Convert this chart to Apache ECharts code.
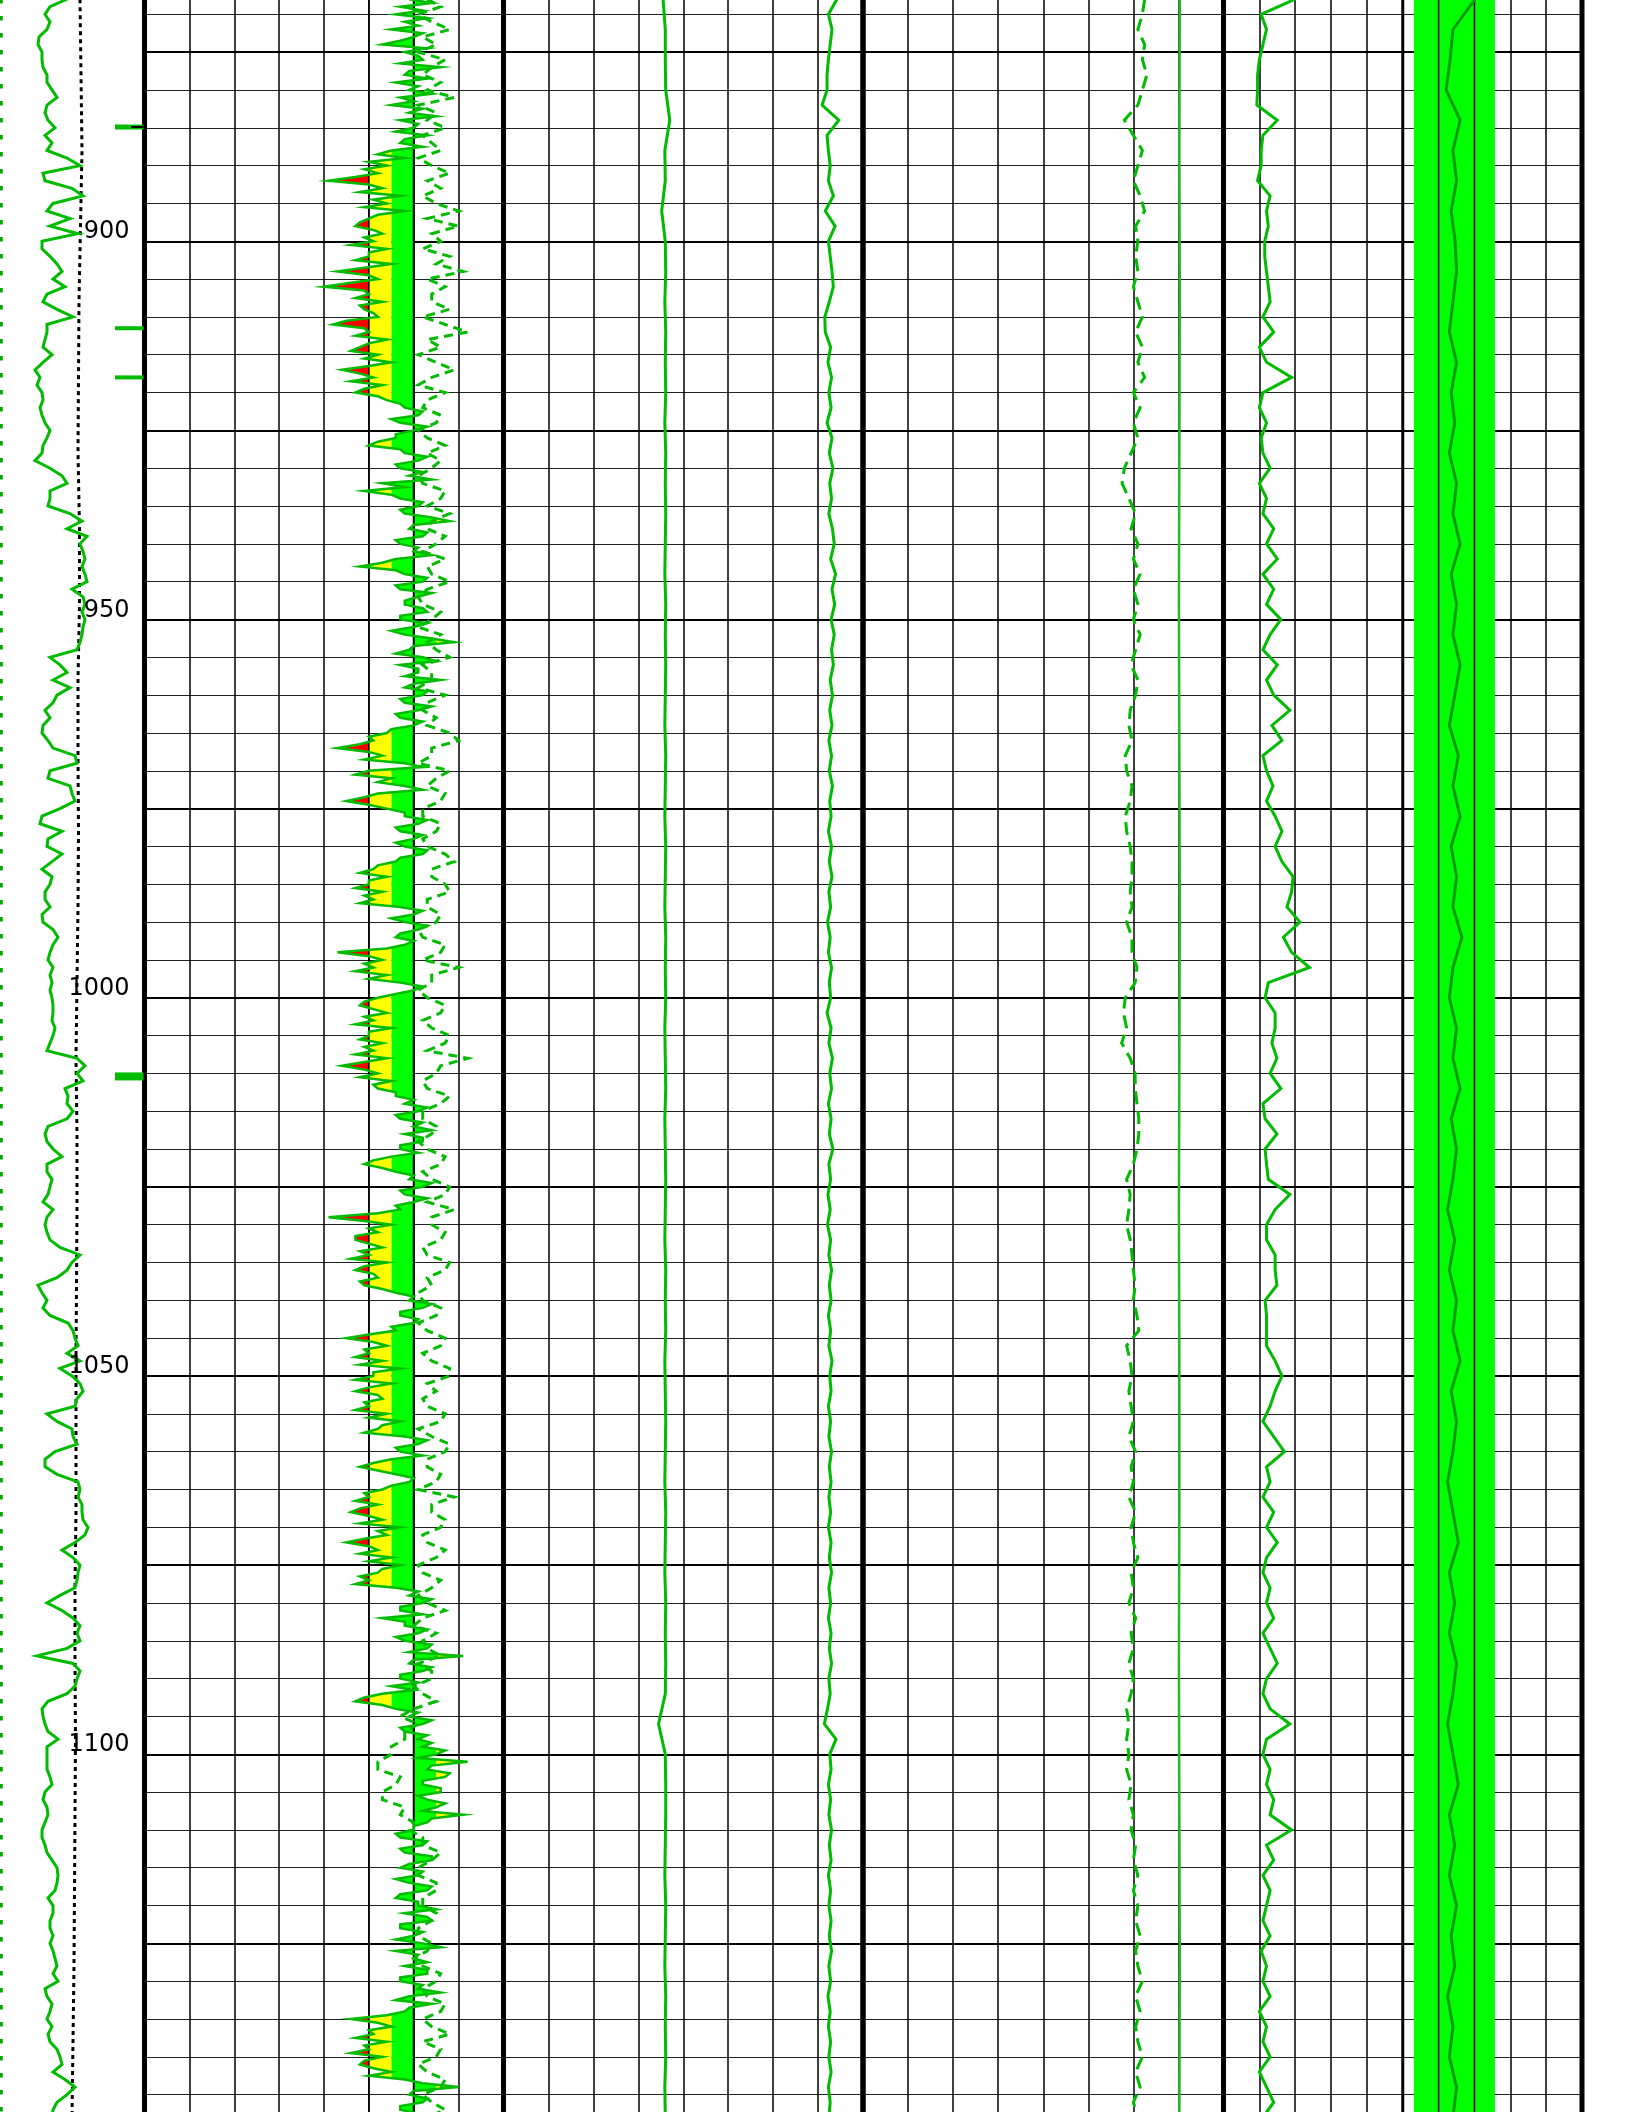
<!DOCTYPE html>
<html><head><meta charset="utf-8">
<script src="https://cdn.jsdelivr.net/npm/echarts@6/dist/echarts.min.js"></script>
<style>html,body{margin:0;padding:0;background:#fff;overflow:hidden}
#wrap{position:relative;width:1632px;height:2112px;overflow:hidden;background:#fff}
#c{position:absolute;left:0;top:-137px;width:1632px;height:2270px}</style>
</head><body><div id="wrap"><div id="c"></div></div>
<script>
// ---- sampling (LAS-style start depth; each array has its own step) ----
const DEPTH_TOP = 868;

// ---- depth track ----
const DEPTH_LABELS = [900, 950, 1000, 1050, 1100];
const MARKER_DEPTHS = [884.9, 911.5, 918.0, 1010.4];
const T1_EDGE = [1.3, 1.3];
const T1_EDGE_DEPTHS = [850, 1150];
// step 1
const T1_GR = [
67,50,45,50,47,39,38,42,42,43,
47,47,52,57,47,45,48,55,45,52,
47,67,80,43,45,72,83,53,47,70,
50,78,42,42,50,57,62,53,65,47,
43,57,73,47,47,45,43,52,43,35,
40,37,42,43,40,42,45,50,47,43,
42,35,50,62,67,50,50,48,70,82,
67,87,80,83,85,82,85,87,72,83,
85,82,85,83,82,80,77,50,60,67,
53,70,57,53,45,50,43,42,48,53,
75,77,50,48,70,72,75,60,42,40,
62,48,47,62,52,42,52,50,45,45,
50,42,43,53,58,53,50,48,53,50,
52,50,52,53,53,52,55,53,50,47,
77,85,77,83,65,68,67,73,67,48,
45,47,53,62,47,47,52,50,48,43,
53,47,45,47,50,60,80,72,67,57,
38,42,47,43,50,68,73,75,78,67,
80,60,72,80,83,77,75,47,57,72,
73,77,55,45,45,57,78,80,78,82,
82,83,88,85,75,62,73,80,78,77,
75,60,47,62,73,80,77,80,67,37,
73,80,77,75,67,48,42,43,45,48,
58,47,47,47,47,50,52,45,43,47,
48,45,42,42,45,47,52,57,58,57,
55,48,53,53,50,50,53,50,53,55,
57,53,58,45,47,52,50,47,52,48,
50,57,60,62,53,65,75,67,57,53,
52];
// step 10
const T1_DOT = [80,81,82,80.5,79,78.5,78,79.5,79.5,78,78,78.5,78,77,76,77,77,76.5,76,76,76,75,75,75.5,75,74.5,74,73,72];

// ---- track 2 ----
const T2_CUTOFFS = [50, 55, 60, 65, 70];
// step 0.5 (one row = 10 depth units)
const T2_MAIN = [
59,64,57,62,56,63,58,61,55,62,60,57,53,63,58,61,62,57,66,59,
58,63,56,61,59,64,57,60,55,62,59,65,57,61,60,56,63,58,57,62,
55,52,58,50,54,49,52,47,41,50,53,48,57,51,54,49,58,52,50,48,
47,51,53,49,51,46,54,50,50,47,55,49,43,50,52,46,40,49,50,47,
53,48,49,51,52,45,42,49,50,47,54,50,48,46,52,49,55,50,44,48,
51,46,53,49,47,52,54,57,58,62,61,55,57,63,60,56,56,52,50,57,
58,63,61,56,57,62,59,64,53,58,49,55,57,62,61,57,58,64,68,60,
59,63,62,56,57,61,60,64,56,53,48,56,58,63,62,56,57,64,61,58,
58,62,63,57,57,63,60,55,58,64,69,60,59,56,62,65,57,61,61,58,
66,60,58,63,62,57,58,64,61,56,57,62,60,55,54,50,51,48,43,50,
53,49,58,62,50,47,55,52,58,62,52,49,45,50,54,58,58,63,61,56,
57,62,60,56,58,63,62,57,56,52,51,48,54,50,50,47,53,49,51,48,
57,62,60,55,58,63,61,57,56,60,58,54,43,50,53,49,51,47,54,50,
57,62,60,56,52,49,48,51,54,49,51,47,55,50,50,48,53,49,51,47,
54,49,44,49,52,48,55,51,52,56,56,60,58,63,61,56,57,62,60,64,
58,62,62,57,57,61,55,51,49,53,56,60,59,64,62,57,58,63,60,56,
57,52,41,49,55,50,52,47,47,50,53,48,50,46,54,49,47,51,52,48,
49,53,56,60,59,64,62,57,57,61,60,55,56,50,45,51,54,49,50,47,
53,48,57,51,51,47,55,50,47,52,53,49,50,47,54,50,57,53,52,49,
58,63,61,56,57,62,55,51,48,52,56,60,59,55,53,49,50,47,52,48,
46,50,53,48,57,52,54,49,45,50,52,48,55,50,57,53,52,48,50,47,
56,61,59,64,62,57,57,62,53,58,58,63,61,56,58,64,63,59,71,60,
59,64,62,57,57,61,55,60,53,49,47,53,56,61,59,64,62,57,58,63,
61,64,62,67,65,61,72,64,63,68,67,62,62,66,66,61,63,67,65,62,
71,64,63,60,60,56,57,63,62,57,58,64,64,59,57,62,61,56,59,64,
63,57,56,61,61,65,58,63,64,57,57,62,60,56,62,66,56,61,60,63,
58,63,63,57,57,62,61,66,59,56,64,59,58,54,46,52,55,50,51,47,
54,49,50,46,53,49,48,51,55,50,58,62,70,60,59,63,62,57,57,61,
60];
// step 1
const T2_DASH = [
63,66,61,64,68,62,65,61,67,64,
62,66,63,69,61,65,63,67,62,64,
66,61,64,68,63,66,62,65,70,63,
70,64,66,62,68,65,71,63,67,64,
64,68,62,67,72,63,66,61,65,69,
64,61,67,63,62,66,65,61,63,67,
63,66,64,61,62,67,66,63,68,64,
63,67,65,62,67,63,64,68,63,61,
62,66,64,61,66,63,65,68,62,64,
64,61,67,63,62,65,63,68,70,64,
64,61,68,65,63,67,66,62,62,66,
65,62,63,67,69,64,64,67,68,63,
63,66,65,61,62,67,66,62,70,64,
64,61,63,67,66,62,64,68,67,63,
72,66,65,62,63,68,66,62,62,65,
64,61,63,67,66,62,64,68,67,63,
69,64,64,67,66,62,63,68,67,63,
64,61,62,66,65,61,63,67,66,62,
64,68,68,63,65,62,63,67,66,61,
64,68,67,63,63,66,65,61,69,64,
64,67,66,62,63,67,65,61,62,66,
64,61,63,67,62,60,65,62,63,66,
61,64,64,60,62,65,60,57,61,58,
58,55,55,52,52,57,56,53,53,58,
57,60,59,62,62,66,64,61,61,65,
65,62,62,65,64,61,61,64,63,60,
62,66,65,62,63,67,66,62,64,68,
62,66,65,61,63,67,66,62,64,67,
63];

// ---- track 3 ----
// step 4
const T3_A = [
35.5,36.0,36.0,36.1,37.0,35.9,36.0,35.2,36.0,36.1,
35.9,36.1,36.0,36.1,35.9,36.1,36.0,36.1,36.0,35.9,
36.1,36.0,36.1,36.0,35.9,36.1,36.0,35.9,36.1,36.0,
35.9,36.1,36.0,36.1,35.9,36.0,36.1,35.9,36.0,36.1,
36.0,35.9,36.1,36.0,36.1,35.9,36.0,36.1,36.0,35.9,
36.1,36.0,35.9,36.1,36.0,36.1,36.0,34.5,36.0,36.1,
36.1,36.0,35.9,36.1,36.0,35.9,36.1,36.0,36.1,35.9,
36.0];
// step 2
const T3_B = [
74.2,72.3,73.1,72.7,72.3,72.0,72.0,70.9,74.6,72.0,
72.3,72.7,72.3,73.4,71.6,73.8,72.3,72.7,73.1,73.4,
72.5,71.5,71.6,72.8,72.2,73.0,72.4,72.9,72.0,73.1,
72.5,73.3,72.6,73.0,72.4,73.2,73.6,72.8,73.9,73.1,
73.7,72.9,73.6,73.0,73.4,72.7,73.2,72.6,73.1,72.4,
73.0,72.5,73.2,72.6,72.9,72.3,73.0,72.5,73.1,72.4,
72.8,72.1,72.7,72.3,73.0,72.5,72.8,72.0,72.9,72.4,
73.2,72.6,73.0,72.3,72.9,72.5,73.3,72.4,72.8,72.2,
72.7,72.1,72.8,72.4,73.0,72.5,72.9,72.3,72.8,72.4,
73.1,72.6,72.9,72.3,72.8,72.4,73.0,72.5,72.9,72.4,
72.8,72.3,72.9,72.5,73.0,72.4,72.8,72.3,72.9,72.5,
73.0,72.4,72.7,72.1,71.4,74.0,72.6,72.9,72.3,72.8,
72.4,73.0,72.5,72.9,72.3,72.8,72.4,72.9,72.5,73.0,
72.4,72.8,72.2,72.7,72.3,72.8,72.4,72.9,72.3,72.7,
72.4];

// ---- track 4 ----
// step 2
const T4_DASH = [
62.5,62.0,61.0,62.5,62.0,63.0,62.0,61.0,58.0,60.0,
62.0,61.0,60.0,61.5,62.5,60.5,61.0,60.5,61.0,60.0,
61.0,62.0,60.5,62.0,61.0,62.5,60.0,61.5,60.0,61.0,
59.5,58.0,57.5,59.0,60.5,59.5,61.0,60.0,61.5,60.0,
61.0,60.0,61.5,60.5,59.5,61.0,60.5,59.3,59.0,59.7,
58.2,58.5,59.7,59.3,58.2,58.5,59.3,59.7,59.7,59.3,
59.7,58.5,59.7,59.7,60.8,60.4,58.2,57.8,58.5,57.4,
59.3,60.4,60.4,60.8,61.2,61.2,60.8,60.0,58.5,59.3,
59.0,58.5,59.3,59.7,60.0,60.4,60.0,60.8,61.2,58.5,
59.3,59.7,59.0,59.5,60.0,59.0,60.5,59.5,60.0,59.0,
60.5,59.5,60.0,61.0,59.5,60.0,59.0,60.5,59.5,60.0,
59.0,60.0,59.5,58.5,59.0,58.5,59.0,58.5,59.5,59.0,
60.0,59.5,60.5,60.0,61.0,60.0,61.0,60.5,61.5,60.5,
61.0,62.0,60.5,61.5,60.5,61.0,62.0,60.5,61.5,60.0,
61.0];
// step 20
const T4_LINE = [70.3,70.2,70.3,70.2,70.1,70.2,70.3,70.2,70.1,70.2,70.2,70.1,70.2,70.3,70.2];

// ---- track 5 ----
// step 2
const T5_CURVE = [
20,10.5,12,11,10,9.5,9.5,9.3,15,11,
10.5,10.5,9.5,13,12,12.5,11.5,11.5,12,12.5,
13,11,14,10,12,19,11,10,12,10.5,
11,13,10,12,11,14,12,15,11,14,
12,16,13,11,15,12,14,18.5,13.5,16.3,
11,12,13.8,12,14.4,16.3,14.4,16.3,19.4,19,
17.7,21.3,16.7,19,24,12.5,11.6,14.4,14.4,13.5,
14.9,13,16,11,11.6,14.9,11.6,12,12.5,18.5,
14.4,12,12,14.4,14.4,14.9,11.6,12,12,12,
14.4,16.3,14.4,13,11,14,17,12,13,11,
14,12,15,12,11,13,12,14,11,13,
15,12,11,13,18.5,12,11,13,12,14,
13,19,12,14,11,13,12,11,13,10.5,
12,11,13,10,12,11,13,10,12,14,
11];
// step 4
const T5_BAND_CURVE = [
70.2,64,63.2,62.1,66,64,65,63.5,64.6,65,
64,63,65,63.5,64.5,63,65,64,66,63.5,
65,64,66,64.5,63,65.5,64,66,63.5,65,
64,66.5,64,63,65,64,66,63.5,65,64,
62.5,64.5,63,65,64,66,63.5,65,64,62.5,
64,65.5,63,64.5,63,65,64,62.5,64,65.5,
63,64.5,63,65,63.5,64.5,62.5,64,63,65,
64];
const T5_BAND_LEFT = [53.1, 53.1];
const T5_BAND_RIGHT = [75.7, 75.7];
const T5_BAND_DEPTHS = [850, 1150];

// ---------------- layout / styles ----------------
const GREEN = '#00bb00';
const TOP = 0, H = 2269.5;
const TRACKS = [
  {left:0, width:144.5, max:144.5, grid:false},
  {left:144.5, width:359, max:80, grid:true},
  {left:503.5, width:359.5, max:80, grid:true},
  {left:863, width:360.5, max:80, grid:true},
  {left:1223.5, width:358.5, max:100, grid:true}
];
const MARKER_WIDTHS = [5, 4, 4, 8];

function pts(vals, step){ return vals.map((v,i)=>[v, DEPTH_TOP + i*step]); }
function lineS(ti, data, color, width, dash, z){
  return {type:'line', xAxisIndex:ti, yAxisIndex:ti, data, symbol:'none', showSymbol:false, silent:true,
    z: z||4, clip:true, animation:false,
    lineStyle:{color, width, type: dash || 'solid', cap:'butt', join:'miter'}};
}
function clipBoundary(vals, step, a, b){
  const out=[]; const cl=v=>Math.max(a, Math.min(b, v));
  for(let i=0;i<vals.length;i++){
    const v=vals[i], d=DEPTH_TOP+i*step;
    out.push([cl(v), d]);
    if(i<vals.length-1){
      const v2=vals[i+1]; const ts=[];
      [a,b].forEach(e=>{ if(isFinite(e) && (v-e)*(v2-e)<0) ts.push((e-v)/(v2-v)); });
      ts.sort((p,q)=>p-q);
      ts.forEach(t=>out.push([cl(v+(v2-v)*t), d+step*t]));
    }
  }
  return out;
}
function vlines(ti, xs, widths, z){
  return {type:'custom', coordinateSystem:'cartesian2d', xAxisIndex:ti, yAxisIndex:ti, silent:true, z,
    data: xs.map(x=>[x, 900]),
    renderItem:(p, api)=>{
      const x=api.value(0); const a=api.coord([x,850]), b=api.coord([x,1150]);
      return {type:'line', shape:{x1:a[0],y1:a[1],x2:b[0],y2:b[1]}, style:{stroke:'#000', lineWidth:widths[p.dataIndex]}};
    }};
}

const [c0,c1,c2,c3,c4] = T2_CUTOFFS;
const zones = [
  {a:c1,b:c2,fixed:c2,color:'#00ff00'}, {a:c0,b:c1,fixed:c1,color:'#ffff00'}, {a:-Infinity,b:c0,fixed:c0,color:'#ff0000'},
  {a:c2,b:c3,fixed:c2,color:'#00ff00'}, {a:c3,b:c4,fixed:c3,color:'#ffff00'}, {a:c4,b:Infinity,fixed:c4,color:'#ff0000'}
];

const series = [
  // track 1
  lineS(0, T1_EDGE.map((v,i)=>[v, T1_EDGE_DEPTHS[i]]), '#00aa00', 3, [4.5,12.5], 3),
  lineS(0, pts(T1_DOT, 10), '#000', 3, [4,4], 3),
  lineS(0, pts(T1_GR, 1), GREEN, 3, null, 4),
  {type:'custom', coordinateSystem:'cartesian2d', xAxisIndex:0, yAxisIndex:0, silent:true, z:5,
    data: MARKER_DEPTHS.map(d=>[0,d]),
    renderItem:(p, api)=>{
      const d=api.value(1); const a=api.coord([115,d]), b=api.coord([143.5,d]);
      const ch=[{type:'line', shape:{x1:a[0],y1:a[1],x2:b[0],y2:b[1]}, style:{stroke:GREEN, lineWidth:MARKER_WIDTHS[p.dataIndex]}}];
      if(p.dataIndex===0){ const c=api.coord([131,d]); ch.push({type:'line', shape:{x1:c[0],y1:c[1],x2:b[0],y2:b[1]}, style:{stroke:'#000', lineWidth:2}}); }
      return {type:'group', children:ch};
    }},
  {type:'custom', coordinateSystem:'cartesian2d', xAxisIndex:0, yAxisIndex:0, silent:true, z:6,
    data: DEPTH_LABELS.map(d=>[0,d]),
    renderItem:(p, api)=>{
      const d=api.value(1); const c=api.coord([129.5,d]);
      return {type:'text', x:c[0], y:c[1]-9, style:{text:String(d), fill:'#000', font:'24px "DejaVu Sans"', align:'right', verticalAlign:'middle'}};
    }},
  // track 2
  {type:'custom', coordinateSystem:'cartesian2d', xAxisIndex:1, yAxisIndex:1, silent:true, z:2,
    data:[[c2, 900]],
    renderItem:(p, api)=>{
      const children = zones.map(zn=>{
        const b = clipBoundary(T2_MAIN, 0.5, zn.a, zn.b);
        const first=b[0][1], last=b[b.length-1][1];
        const poly = b.concat([[zn.fixed,last],[zn.fixed,first]]).map(q=>api.coord(q));
        return {type:'polygon', shape:{points:poly}, style:{fill:zn.color, lineWidth:0}};
      });
      return {type:'group', children};
    }},
  vlines(1, [c0, c2], [1.5, 2], 3),
  lineS(1, pts(T2_MAIN, 0.5), GREEN, 2.5, null, 4),
  lineS(1, pts(T2_DASH, 1), GREEN, 3, [9,6], 4),
  // track 3
  lineS(2, pts(T3_A, 4), GREEN, 3, null, 4),
  lineS(2, pts(T3_B, 2), GREEN, 3, null, 4),
  // track 4
  lineS(3, pts(T4_DASH, 2), GREEN, 3, [13,7], 4),
  lineS(3, pts(T4_LINE, 20), '#22bb22', 2.5, null, 4),
  // track 5
  {type:'custom', coordinateSystem:'cartesian2d', xAxisIndex:4, yAxisIndex:4, silent:true, z:2,
    data:[[T5_BAND_LEFT[0], 900]],
    renderItem:(p, api)=>{
      const left = T5_BAND_LEFT.map((v,i)=>[v, T5_BAND_DEPTHS[i]]);
      const right = T5_BAND_RIGHT.map((v,i)=>[v, T5_BAND_DEPTHS[i]]).reverse();
      return {type:'polygon', shape:{points:left.concat(right).map(q=>api.coord(q))}, style:{fill:'#00ff00', lineWidth:0}};
    }},
  vlines(4, [50, 60, 70], [3, 1.5, 1.5], 3),
  lineS(4, pts(T5_CURVE, 2), GREEN, 3, null, 4),
  lineS(4, pts(T5_BAND_CURVE, 4), '#0a9a0a', 3, null, 4)
];

const chart = echarts.init(document.getElementById('c'), null, {renderer:'canvas', width:1632, height:2270});
chart.setOption({
  animation:false,
  backgroundColor:'#fff',
  grid: TRACKS.map(t=>({left:t.left, top:TOP, width:t.width, height:H, show:t.grid, borderColor:'#000', borderWidth:5, backgroundColor:'transparent', containLabel:false})),
  xAxis: TRACKS.map((t,i)=>({gridIndex:i, type:'value', min:0, max:t.max, interval:10,
    axisLine:{show:false}, axisTick:{show:false}, axisLabel:{show:false},
    splitLine:{show:t.grid, lineStyle:{color:'#000', width:1.5}}})),
  yAxis: TRACKS.map((t,i)=>({gridIndex:i, type:'value', inverse:true, min:850, max:1150, interval:25,
    axisLine:{show:false}, axisTick:{show:false}, axisLabel:{show:false},
    splitLine:{show:t.grid, lineStyle:{color:'#000', width:2}},
    minorTick:{show:false, splitNumber:5},
    minorSplitLine:{show:t.grid, lineStyle:{color:'#222', width:1}}})),
  series
});
</script></body></html>
